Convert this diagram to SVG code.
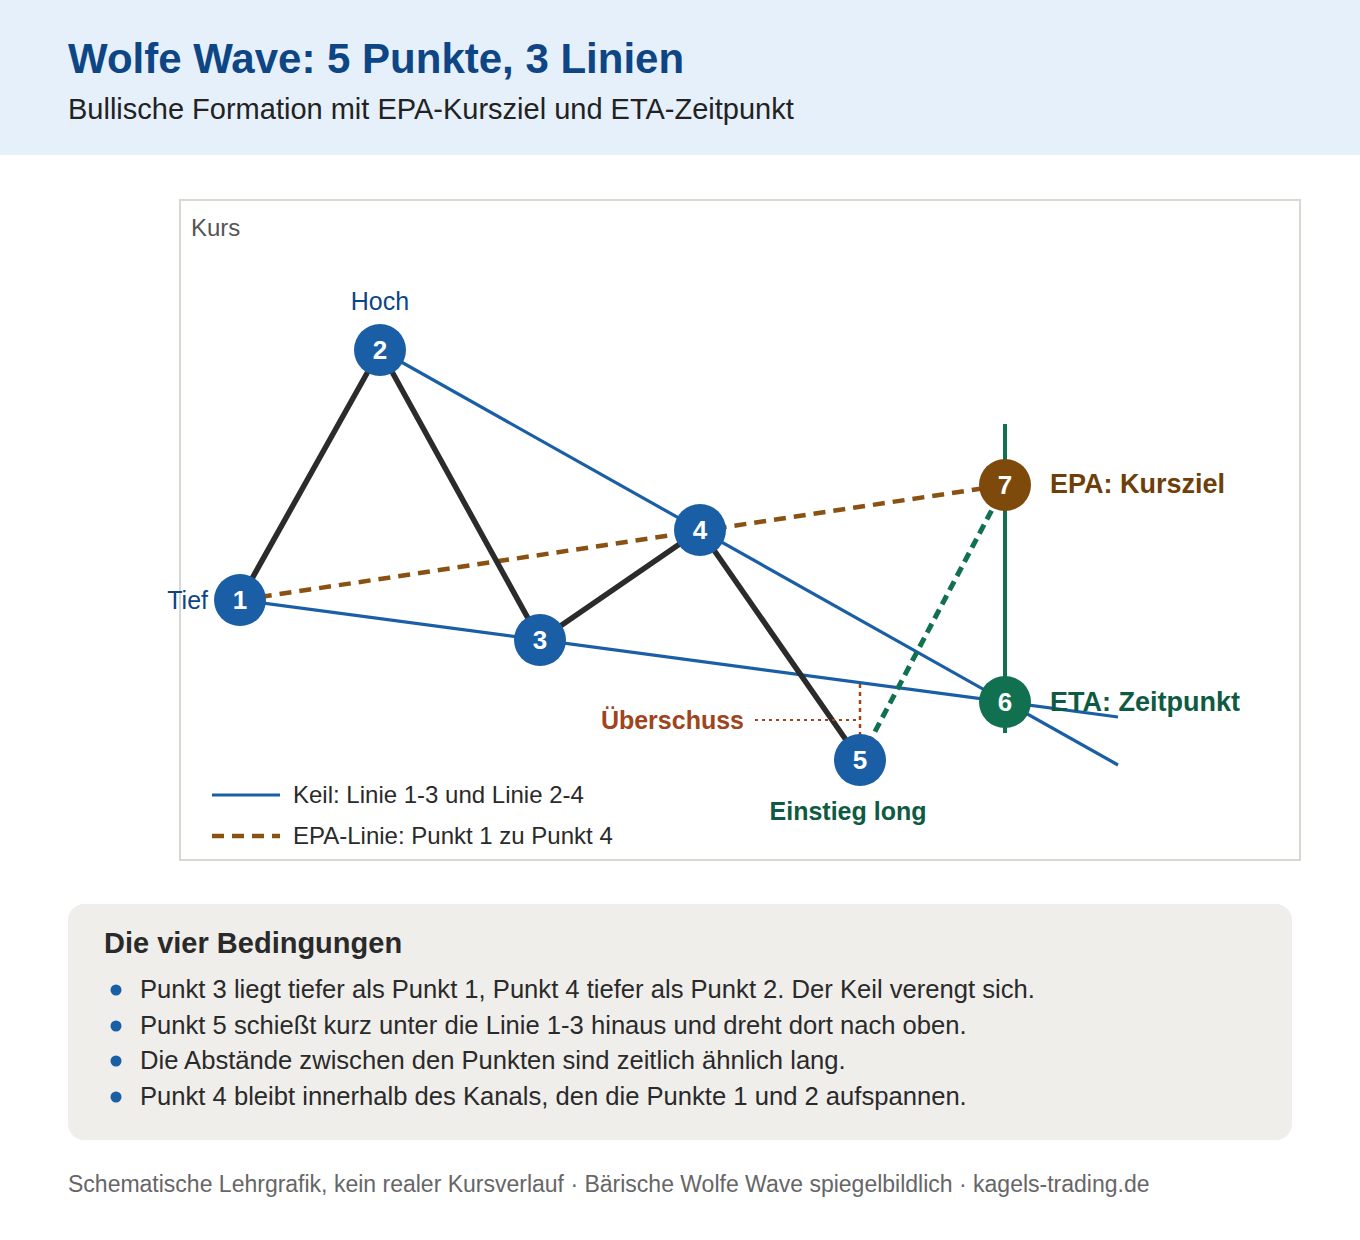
<svg xmlns="http://www.w3.org/2000/svg" width="1360" height="1240" viewBox="0 0 1360 1240">
<style>
text{font-family:"Liberation Sans",Arial,sans-serif}
.num{font-size:26px;font-weight:bold;fill:#fff;text-anchor:middle}
.blue{fill:#1a5ea6}
.lbl{font-size:25px;fill:#0d4585}
.zig{stroke:#2b2b2b;stroke-width:5.5;fill:none;stroke-linejoin:round}
.keil{stroke:#1a5ea6;stroke-width:3.2;fill:none}
.epa{stroke:#8a5212;stroke-width:4.5;stroke-dasharray:12 8;fill:none}
.leg{font-size:24px;fill:#2a2a2a}
.bul{font-size:25.6px;fill:#2a2a2a}
</style>
<rect x="0" y="0" width="1360" height="155" fill="#e6f0fa"/>
<text x="68" y="73" font-size="42" font-weight="bold" fill="#0d4585">Wolfe Wave: 5 Punkte, 3 Linien</text>
<text x="68" y="119" font-size="29" fill="#222">Bullische Formation mit EPA-Kursziel und ETA-Zeitpunkt</text>

<rect x="180" y="200" width="1120" height="660" fill="#fff" stroke="#d9d7d2" stroke-width="2"/>
<text x="191" y="236" font-size="24" fill="#555">Kurs</text>

<g id="connectors">
<line class="keil" x1="240" y1="600" x2="1118" y2="717"/>
<line class="keil" x1="380" y1="350" x2="1118" y2="765"/>
<line x1="1005" y1="424" x2="1005" y2="733" stroke="#11704f" stroke-width="4"/>
<line class="epa" x1="240" y1="600" x2="1005" y2="485"/>
<polyline class="zig" points="240,600 380,350 540,640 700,530 860,760"/>
<line x1="860" y1="760" x2="1005" y2="485" stroke="#11704f" stroke-width="5" stroke-dasharray="10 6"/>
<line x1="860" y1="684" x2="860" y2="735" stroke="#a0441c" stroke-width="2.5" stroke-dasharray="4 4"/>
<line x1="755" y1="720" x2="856" y2="720" stroke="#a0441c" stroke-width="1.8" stroke-dasharray="3 4"/>
</g>

<g id="node1"><circle cx="240" cy="600" r="26" class="blue"/><text x="240" y="609" class="num">1</text><text x="208" y="609" class="lbl" text-anchor="end">Tief</text></g>
<g id="node2"><circle cx="380" cy="350" r="26" class="blue"/><text x="380" y="359" class="num">2</text><text x="380" y="310" class="lbl" text-anchor="middle">Hoch</text></g>
<g id="node3"><circle cx="540" cy="640" r="26" class="blue"/><text x="540" y="649" class="num">3</text></g>
<g id="node4"><circle cx="700" cy="530" r="26" class="blue"/><text x="700" y="539" class="num">4</text></g>
<g id="node5"><circle cx="860" cy="760" r="26" class="blue"/><text x="860" y="769" class="num">5</text><text x="848" y="820" font-size="25" font-weight="bold" fill="#0e5a42" text-anchor="middle">Einstieg long</text></g>
<g id="node6"><circle cx="1005" cy="702" r="26" fill="#11704f"/><text x="1005" y="711" class="num">6</text><text x="1050" y="711" font-size="27" font-weight="bold" fill="#0e5a42">ETA: Zeitpunkt</text></g>
<g id="node7"><circle cx="1005" cy="485" r="26" fill="#7d4a0c"/><text x="1005" y="494" class="num">7</text><text x="1050" y="493" font-size="27" font-weight="bold" fill="#6e3f08">EPA: Kursziel</text></g>
<g id="overshoot"><text x="744" y="729" font-size="25" font-weight="bold" fill="#a0441c" text-anchor="end">Überschuss</text></g>

<g id="legend">
<line x1="212" y1="795" x2="280" y2="795" class="keil"/>
<text x="293" y="803" class="leg">Keil: Linie 1-3 und Linie 2-4</text>
<line x1="212" y1="836" x2="280" y2="836" class="epa"/>
<text x="293" y="844" class="leg">EPA-Linie: Punkt 1 zu Punkt 4</text>
</g>

<g id="conditions">
<rect x="68" y="904" width="1224" height="236" rx="16" fill="#efeeea"/>
<text x="104" y="953" font-size="29" font-weight="bold" fill="#2a2a2a">Die vier Bedingungen</text>
<circle cx="116" cy="990" r="5.5" class="blue"/>
<text x="140" y="998" class="bul">Punkt 3 liegt tiefer als Punkt 1, Punkt 4 tiefer als Punkt 2. Der Keil verengt sich.</text>
<circle cx="116" cy="1026" r="5.5" class="blue"/>
<text x="140" y="1034" class="bul">Punkt 5 schießt kurz unter die Linie 1-3 hinaus und dreht dort nach oben.</text>
<circle cx="116" cy="1061" r="5.5" class="blue"/>
<text x="140" y="1069" class="bul">Die Abstände zwischen den Punkten sind zeitlich ähnlich lang.</text>
<circle cx="116" cy="1097" r="5.5" class="blue"/>
<text x="140" y="1105" class="bul">Punkt 4 bleibt innerhalb des Kanals, den die Punkte 1 und 2 aufspannen.</text>
</g>

<text x="68" y="1192" font-size="23" fill="#666">Schematische Lehrgrafik, kein realer Kursverlauf · Bärische Wolfe Wave spiegelbildlich · kagels-trading.de</text>
</svg>
